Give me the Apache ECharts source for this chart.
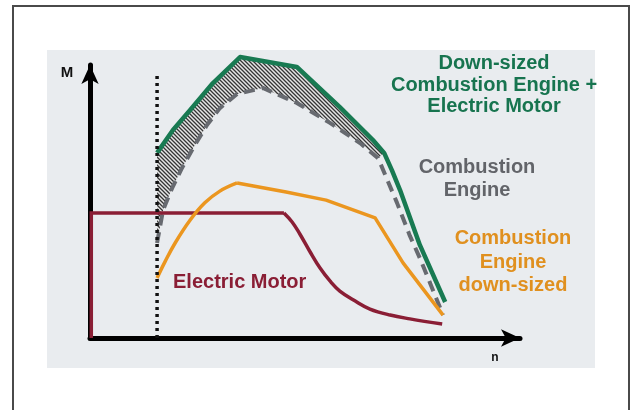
<!DOCTYPE html>
<html>
<head>
<meta charset="utf-8">
<script src="https://cdn.jsdelivr.net/npm/echarts@6/dist/echarts.min.js"></script>
<style>
html,body{margin:0;padding:0;background:#fff;}
#chart{width:635px;height:410px;}
</style>
</head>
<body>
<div id="chart"></div>
<script>
// Combined: down-sized combustion engine + electric motor (green)
const combinedN = [15.6, 19.3, 23.3, 28.6, 34.9, 48.1, 58.1, 65.8, 68.4, 70.2, 72.1, 76.7, 82.6];
const combinedM = [67.8, 76.2, 83.5, 93.4, 102.9, 99.3, 84.6, 72.5, 67.8, 61.5, 54.2, 34.1, 13.2];
// Combustion engine (grey dashed)
const combustionN = [15.6, 17.0, 19.1, 21.4, 24.4, 27.2, 30.2, 34.2, 40.2, 48.1, 55.8, 62.8, 67.0, 71.4, 74.4, 76.7, 79.1, 82.1];
const combustionM = [34.8, 46.9, 54.9, 62.3, 70.7, 78.0, 84.2, 89.4, 91.6, 86.1, 78.8, 71.4, 65.9, 49.5, 37.4, 29.3, 20.1, 8.4];
// Combustion engine down-sized (orange): rising part (smooth) and upper part
const downsizedRiseN = [15.6, 17.4, 19.8, 23.3, 26.7, 30.2, 34.2];
const downsizedRiseM = [22.0, 27.8, 34.8, 43.2, 49.5, 53.8, 56.8];
const downsizedTopN = [34.2, 45.6, 54.9, 66.3, 72.8, 82.1];
const downsizedTopM = [56.8, 53.5, 50.5, 44.0, 27.5, 8.4];
// Electric motor (dark red): constant-torque part and falling part (smooth)
const electricFlatN = [0.3, 0.3, 45.1];
const electricFlatM = [0, 45.8, 45.8];
const electricFallN = [45.1, 47.0, 48.8, 51.2, 53.5, 55.8, 58.1, 61.6, 65.1, 69.8, 74.4, 81.9];
const electricFallM = [45.8, 42.5, 38.1, 31.5, 25.6, 20.9, 17.2, 13.6, 10.6, 8.4, 7.0, 5.1];
// Idle speed marker (dotted)
const idleN = [15.6, 15.6];
const idleM = [0, 96];
// Labels
const labelCombined = ['Down-sized', 'Combustion Engine +', 'Electric Motor'];
const labelCombustion = ['Combustion', 'Engine'];
const labelDownsized = ['Combustion', 'Engine', 'down-sized'];
const labelElectric = 'Electric Motor';
const axisNameM = 'M';
const axisNameN = 'n';

const zip = (a, b) => a.map((v, i) => [v, b[i]]);
// hatched band between green and grey curves (rising part up to where they meet)
const hatchLimit = 68.5;
const hatchPoly = zip(combinedN, combinedM).filter(p => p[0] <= hatchLimit)
  .concat(zip(combustionN, combustionM).filter(p => p[0] <= hatchLimit).reverse());

function makeHatch() {
  const c = document.createElement('canvas');
  c.width = 4; c.height = 4;
  const g = c.getContext('2d');
  g.fillStyle = '#e6e6e6'; g.fillRect(0, 0, 4, 4);
  g.strokeStyle = '#353535'; g.lineWidth = 1.3;
  g.beginPath();
  g.moveTo(-1, -1); g.lineTo(5, 5);
  g.moveTo(-1, 3); g.lineTo(1, 5);
  g.moveTo(3, -1); g.lineTo(5, 1);
  g.stroke();
  return c;
}
const hatchImg = makeHatch();

const FONT = '"Liberation Sans", Arial, sans-serif';
const chart = echarts.init(document.getElementById('chart'), null, {renderer: 'canvas'});

const RED = '#8a1e35', ORANGE = '#eb961f';
function line(name, n, m, z, style, smooth) {
  return {name: name, type: 'line', z: z, clip: false, symbol: 'none', smooth: smooth || false,
          data: zip(n, m), lineStyle: style};
}

chart.setOption({
  backgroundColor: '#ffffff',
  animation: false,
  grid: {left: 90, right: 115, top: 65, bottom: 72},
  xAxis: {
    type: 'value', min: 0, max: 100,
    axisLine: {show: true, onZero: false, symbol: ['none', 'arrow'], symbolSize: [13, 19], lineStyle: {color: '#000', width: 5}},
    axisTick: {show: false}, axisLabel: {show: false}, splitLine: {show: false}
  },
  yAxis: {
    type: 'value', min: 0, max: 100,
    axisLine: {show: true, onZero: false, symbol: ['none', 'arrow'], symbolSize: [13, 19], lineStyle: {color: '#000', width: 5}},
    axisTick: {show: false}, axisLabel: {show: false}, splitLine: {show: false}
  },
  graphic: [
    {type: 'rect', z: -10, silent: true, shape: {x: 47, y: 50, width: 548, height: 318}, style: {fill: '#e9ecef'}},
    {type: 'rect', z: -9, silent: true, shape: {x: 13, y: 6, width: 616, height: 430}, style: {fill: 'none', stroke: '#4a4a4a', lineWidth: 2}},
    {type: 'text', z: 100, x: 67, y: 73, style: {text: axisNameM, font: 'bold 15px ' + FONT, fill: '#111', align: 'center', verticalAlign: 'middle'}},
    {type: 'text', z: 100, x: 495, y: 358, style: {text: axisNameN, font: 'bold 12px ' + FONT, fill: '#111', align: 'center', verticalAlign: 'middle'}},
    {type: 'text', z: 100, x: 494, y: 53, style: {text: labelCombined.join('\n'), font: 'bold 20px ' + FONT, lineHeight: 21.5, fill: '#17744f', align: 'center', verticalAlign: 'top'}},
    {type: 'text', z: 100, x: 477, y: 156, style: {text: labelCombustion.join('\n'), font: 'bold 20px ' + FONT, lineHeight: 23, fill: '#626469', align: 'center', verticalAlign: 'top'}},
    {type: 'text', z: 100, x: 513, y: 227, style: {text: labelDownsized.join('\n'), font: 'bold 20px ' + FONT, lineHeight: 23.5, fill: '#e0901f', align: 'center', verticalAlign: 'top'}},
    {type: 'text', z: 100, x: 173, y: 282, style: {text: labelElectric, font: 'bold 20px ' + FONT, fill: RED, align: 'left', verticalAlign: 'middle'}}
  ],
  series: [
    {
      type: 'custom', z: 2, silent: true,
      data: [[0, 0]],
      renderItem: function (params, api) {
        const pts = hatchPoly.map(p => api.coord(p));
        return {type: 'polygon', shape: {points: pts}, style: {fill: {image: hatchImg, repeat: 'repeat'}, stroke: null}};
      }
    },
    line('Combustion Engine', combustionN, combustionM, 3, {color: '#676a70', width: 4, type: [11, 7]}),
    line('Down-sized Combustion Engine + Electric Motor', combinedN, combinedM, 4, {color: '#187a52', width: 4.5, join: 'round'}),
    line('Electric Motor', electricFlatN, electricFlatM, 5, {color: RED, width: 3.5, join: 'miter'}),
    line('Electric Motor', electricFallN, electricFallM, 5, {color: RED, width: 3.5}, 0.4),
    line('Combustion Engine down-sized', downsizedRiseN, downsizedRiseM, 6, {color: ORANGE, width: 3.5}, 0.4),
    line('Combustion Engine down-sized', downsizedTopN, downsizedTopM, 6, {color: ORANGE, width: 3.5, join: 'round'}),
    line('idle', idleN, idleM, 7, {color: '#111', width: 3.5, type: [3, 4], cap: 'butt'})
  ]
});
</script>
</body>
</html>
